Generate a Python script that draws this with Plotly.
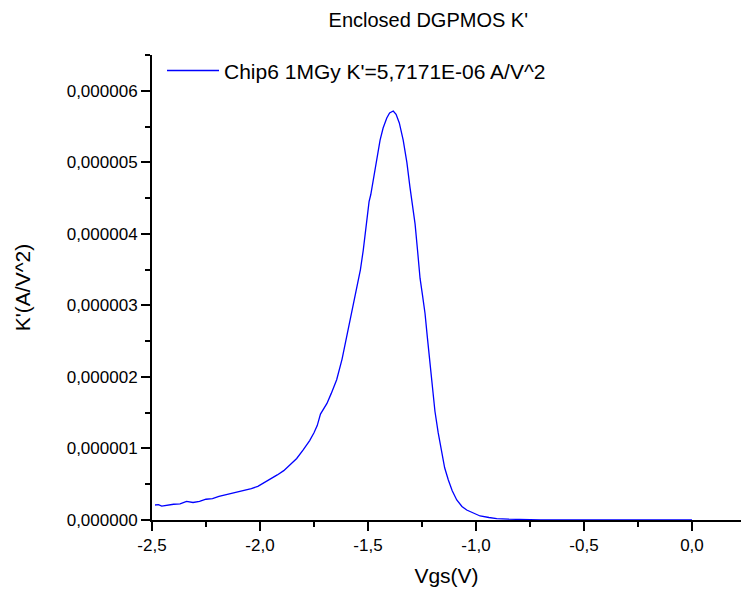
import plotly.graph_objects as go

# Data
vgs = [-2.486, -2.47, -2.455, -2.43, -2.40, -2.37, -2.34, -2.31, -2.28, -2.25,
       -2.22, -2.19, -2.16, -2.13, -2.10, -2.07, -2.04, -2.01, -1.98, -1.95,
       -1.92, -1.89, -1.86, -1.83, -1.80, -1.77, -1.75, -1.735, -1.72, -1.705,
       -1.69, -1.67, -1.645, -1.62, -1.60, -1.575, -1.552, -1.535, -1.522, -1.505,
       -1.495, -1.487, -1.475, -1.46, -1.444, -1.43, -1.413, -1.40, -1.383, -1.37,
       -1.355, -1.337, -1.32, -1.306, -1.294, -1.282, -1.27, -1.259, -1.248, -1.236,
       -1.225, -1.213, -1.20, -1.19, -1.175, -1.159, -1.145, -1.128, -1.11, -1.089,
       -1.065, -1.043, -1.01, -0.981, -0.94, -0.904, -0.85, -0.80, -0.70, -0.60,
       -0.50, -0.40, -0.30, -0.20, -0.10, 0.0]
kprime_e6 = [0.21, 0.215, 0.195, 0.21, 0.22, 0.225, 0.26, 0.245, 0.26, 0.29,
             0.30, 0.33, 0.35, 0.37, 0.39, 0.42, 0.44, 0.47, 0.52, 0.58,
             0.63, 0.69, 0.77, 0.86, 0.98, 1.11, 1.22, 1.32, 1.48, 1.56,
             1.63, 1.77, 1.96, 2.25, 2.55, 2.92, 3.22, 3.50, 3.77, 4.15,
             4.45, 4.55, 4.78, 5.06, 5.31, 5.48, 5.62, 5.69, 5.717, 5.67,
             5.55, 5.31, 5.00, 4.66, 4.40, 4.14, 3.75, 3.38, 3.15, 2.89,
             2.55, 2.19, 1.85, 1.52, 1.22, 0.93, 0.73, 0.56, 0.41, 0.28,
             0.19, 0.14, 0.09, 0.056, 0.035, 0.02, 0.011, 0.006, 0.003, 0.002,
             0.0015, 0.001, 0.0008, 0.0005, 0.0003, 0.0002]
kprime = [v * 1e-6 for v in kprime_e6]

series_name = "Chip6 1MGy K'=5,7171E-06 A/V^2"
title_text = "Enclosed DGPMOS K'"
x_title = "Vgs(V)"
y_title = "K'(A/V^2)"

x_tick_vals = [-2.5, -2.0, -1.5, -1.0, -0.5, 0.0]
x_tick_text = ["-2,5", "-2,0", "-1,5", "-1,0", "-0,5", "0,0"]
x_minor_vals = [-2.25, -1.75, -1.25, -0.75, -0.25]
y_tick_vals = [0, 1e-6, 2e-6, 3e-6, 4e-6, 5e-6, 6e-6]
y_tick_text = ["0,000000", "0,000001", "0,000002", "0,000003", "0,000004", "0,000005", "0,000006"]
y_minor_vals = [0.5e-6, 1.5e-6, 2.5e-6, 3.5e-6, 4.5e-6, 5.5e-6, 6.5e-6]

font_family = "Liberation Sans, Arial, Helvetica, sans-serif"

fig = go.Figure()
fig.add_trace(go.Scatter(x=vgs, y=kprime, mode="lines", name=series_name,
                         line=dict(color="#0000ff", width=1.3)))

fig.update_layout(
    width=741, height=596,
    paper_bgcolor="white", plot_bgcolor="white",
    margin=dict(l=152, r=0, t=55, b=76, autoexpand=False),
    font=dict(family=font_family, color="black", size=17),
    title=dict(text=title_text, x=0.578, xanchor="center", y=0.966, yanchor="middle",
               font=dict(size=20, color="black")),
    showlegend=True,
    legend=dict(x=0.017, y=1.01, xanchor="left", yanchor="top", bgcolor="rgba(0,0,0,0)",
                font=dict(size=21, color="black"), itemwidth=52),
)
fig.update_xaxes(
    range=[-2.5, 0.227], showgrid=False, zeroline=False,
    showline=True, linecolor="black", linewidth=2,
    tickmode="array", tickvals=x_tick_vals, ticktext=x_tick_text,
    ticks="outside", ticklen=9, tickwidth=2, tickcolor="black",
    minor=dict(tickmode="array", tickvals=x_minor_vals, ticks="outside", ticklen=5,
               tickwidth=2, tickcolor="black", showgrid=False),
    tickfont=dict(size=17),
    title=dict(text=x_title, font=dict(size=21), standoff=14),
)
fig.update_yaxes(
    range=[0, 6.5e-6], showgrid=False, zeroline=False,
    showline=True, linecolor="black", linewidth=2,
    tickmode="array", tickvals=y_tick_vals, ticktext=y_tick_text,
    ticks="outside", ticklen=9, tickwidth=2, tickcolor="black",
    minor=dict(tickmode="array", tickvals=y_minor_vals, ticks="outside", ticklen=5,
               tickwidth=2, tickcolor="black", showgrid=False),
    tickfont=dict(size=17),
    title=dict(text=y_title, font=dict(size=21), standoff=30),
)

fig.write_html("out.html", config={"displayModeBar": False},
               post_script="document.body.style.margin='0';document.body.style.overflow='hidden';")
